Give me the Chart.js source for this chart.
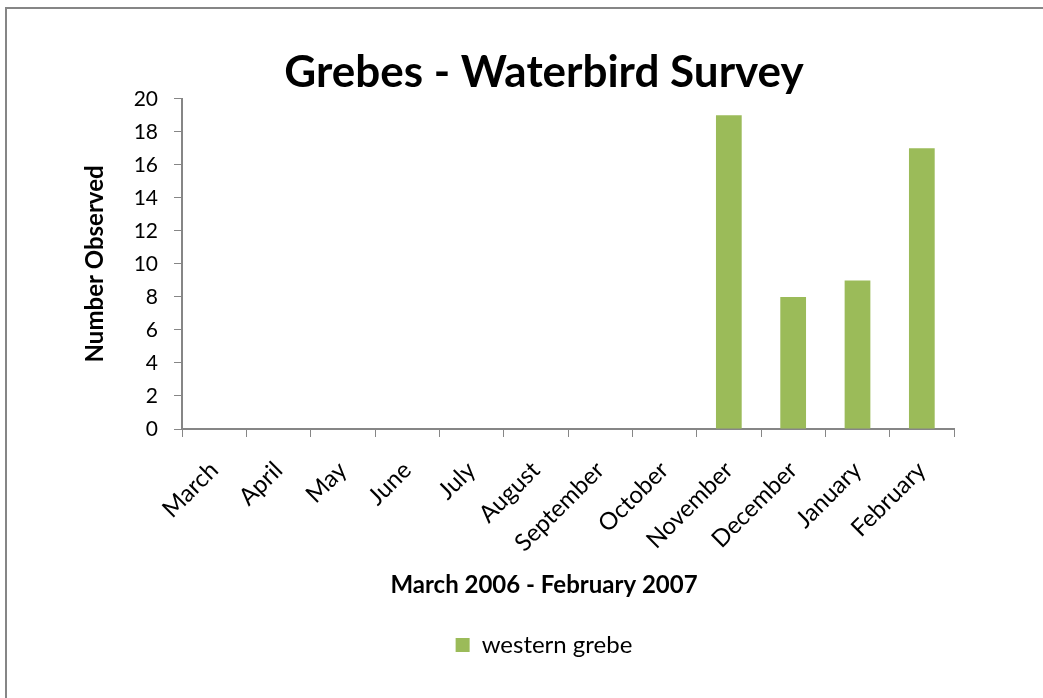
<!DOCTYPE html>
<html>
<head>
<meta charset="utf-8">
<script src="https://cdn.jsdelivr.net/npm/chart.js@4/dist/chart.umd.min.js"></script>
<style>
  html, body { margin: 0; padding: 0; background: #fff; overflow: hidden; }
  #wrap { position: relative; width: 1043px; height: 698px; }
  #frame { position: absolute; left: 5px; top: 7px; width: 1100px; height: 800px; border: 2px solid #868686; }
  #chart { position: absolute; left: 0; top: 0; }
</style>
</head>
<body>
<div id="wrap">
  <div id="frame"></div>
  <canvas id="chart" width="1043" height="698"></canvas>
</div>
<script>
var months = ['March', 'April', 'May', 'June', 'July', 'August', 'September',
              'October', 'November', 'December', 'January', 'February'];
var westernGrebe = [0, 0, 0, 0, 0, 0, 0, 0, 19, 8, 9, 17];
var yTicks = [0, 2, 4, 6, 8, 10, 12, 14, 16, 18, 20];

var chartTitle = 'Grebes - Waterbird Survey';
var xTitle = 'March 2006 - February 2007';
var yTitle = 'Number Observed';

var FONT = 'Lato, "Open Sans", sans-serif';
var axisGrey = '#868686';

Chart.defaults.font.family = FONT;
Chart.defaults.color = '#000';

new Chart(document.getElementById('chart'), {
  type: 'bar',
  data: {
    labels: months,
    datasets: [{
      label: 'western grebe',
      data: westernGrebe,
      backgroundColor: '#9bbb59',
      barPercentage: 0.5,
      categoryPercentage: 0.8
    }]
  },
  options: {
    responsive: false,
    animation: false,
    layout: { padding: { left: 45, right: 0, top: 10, bottom: 31 } },
    plugins: {
      title: {
        display: true,
        text: chartTitle,
        font: { size: 44, weight: 'bold' },
        color: '#000',
        padding: { top: 36, bottom: 0 }
      },
      // x axis title, kept here so it centres on the whole chart like the original
      subtitle: {
        display: true,
        position: 'bottom',
        weight: 500,
        text: xTitle,
        font: { size: 24, weight: 'bold' },
        color: '#000',
        padding: { top: 11.6, bottom: 10 }
      },
      legend: {
        position: 'bottom',
        labels: {
          boxWidth: 14,
          boxHeight: 14,
          padding: 23.6,
          font: { size: 24 },
          color: '#000'
        }
      },
      tooltip: { enabled: false }
    },
    scales: {
      x: {
        grid: { offset: true, drawOnChartArea: false, color: axisGrey, tickLength: 8 },
        border: { color: axisGrey, width: 2 },
        ticks: { autoSkip: false, minRotation: 45, maxRotation: 45, padding: 19, font: { size: 24 } },
        afterFit: function (scale) { scale.height = 130; }
      },
      y: {
        min: 0,
        max: 20,
        afterBuildTicks: function (scale) {
          scale.ticks = yTicks.map(function (v) { return { value: v }; });
        },
        grid: { drawOnChartArea: false, color: axisGrey, tickLength: 8 },
        border: { color: axisGrey, width: 2 },
        ticks: { padding: 16, font: { size: 21 } },
        title: {
          display: true,
          text: yTitle,
          font: { size: 24, weight: 'bold' },
          padding: { top: 35.6, bottom: 0 }
        },
        afterFit: function (scale) { scale.width = 137; }
      },
      yRight: {
        position: 'right',
        grid: { display: false },
        border: { display: false },
        ticks: { display: false },
        afterFit: function (scale) { scale.width = 89; }
      }
    }
  }
});
</script>
</body>
</html>
